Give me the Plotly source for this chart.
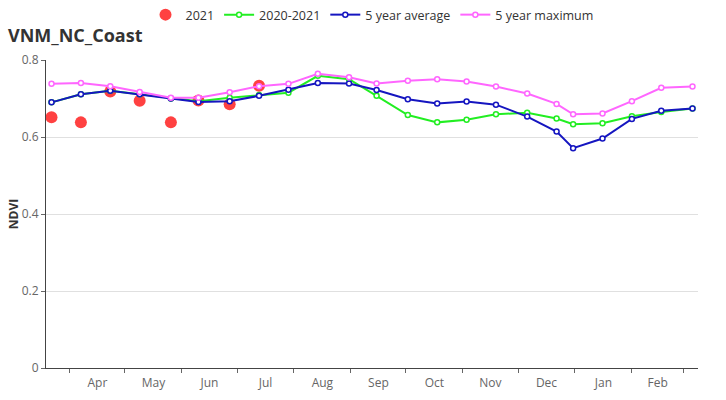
import plotly.graph_objects as go

# Dates of the composites (season Mar 2021 - Mar 2022)
dates = ["2021-03-22", "2021-04-07", "2021-04-23", "2021-05-09", "2021-05-26",
         "2021-06-10", "2021-06-27", "2021-07-13", "2021-07-29", "2021-08-14",
         "2021-08-31", "2021-09-15", "2021-10-02", "2021-10-18", "2021-11-03",
         "2021-11-19", "2021-12-06", "2021-12-22", "2021-12-31", "2022-01-16",
         "2022-02-01", "2022-02-17", "2022-03-06"]

ndvi_2021 = [0.651, 0.638, 0.718, 0.694, 0.638, 0.695, 0.685, 0.733]

ndvi_2020_2021 = [0.690, 0.711, 0.720, 0.711, 0.700, 0.693, 0.702, 0.709,
                  0.715, 0.759, 0.750, 0.707, 0.657, 0.638, 0.645, 0.659,
                  0.663, 0.648, 0.633, 0.636, 0.654, 0.665, 0.674]

avg_5yr = [0.690, 0.711, 0.720, 0.711, 0.700, 0.691, 0.693, 0.707,
           0.723, 0.740, 0.739, 0.722, 0.698, 0.687, 0.692, 0.684,
           0.653, 0.614, 0.571, 0.596, 0.647, 0.668, 0.674]

max_5yr = [0.738, 0.740, 0.732, 0.717, 0.702, 0.702, 0.716, 0.732,
           0.738, 0.764, 0.755, 0.739, 0.746, 0.750, 0.744, 0.731,
           0.713, 0.686, 0.659, 0.661, 0.693, 0.728, 0.731]

FONT = "Open Sans, Noto Sans, sans-serif"

fig = go.Figure()
fig.add_trace(go.Scatter(
    x=dates[:len(ndvi_2021)], y=ndvi_2021, name="2021", mode="markers",
    marker=dict(color="#ff3333", size=12, opacity=0.93)))


def line_trace(y, name, color):
    return go.Scatter(
        x=dates, y=y, name=name, mode="lines+markers",
        line=dict(color=color, width=2),
        marker=dict(symbol="circle", size=5, color="white",
                    line=dict(color=color, width=1.5)))


fig.add_trace(line_trace(ndvi_2020_2021, "2020-2021", "#22ee22"))
fig.add_trace(line_trace(avg_5yr, "5 year average", "#1515c0"))
fig.add_trace(line_trace(max_5yr, "5 year maximum", "#ff66ff"))

fig.update_layout(
    width=726, height=400,
    margin=dict(l=46, r=28, t=60, b=32),
    paper_bgcolor="white", plot_bgcolor="white",
    font=dict(family=FONT, size=12, color="#666"),
    title=dict(text="<b>VNM_NC_Coast</b>", x=0.011, xanchor="left",
               xref="container", yref="container", y=0.912, yanchor="middle",
               font=dict(size=18, color="#333", family=FONT)),
    legend=dict(orientation="h", x=0.5, xanchor="center", y=1.0,
                yanchor="top", yref="container", itemwidth=30,
                font=dict(size=12.5, color="#333"), traceorder="normal"),
    showlegend=True,
)

fig.update_xaxes(
    type="date", range=["2021-03-19", "2022-03-09"],
    dtick="M1", tick0="2021-04-01", tickformat="%b", ticklabelmode="period",
    showline=True, linecolor="#444", linewidth=1,
    ticks="outside", ticklen=4, tickcolor="#666",
    showgrid=False, zeroline=False, automargin=False,
    tickfont=dict(size=12, color="#666"))

fig.update_yaxes(
    range=[0, 0.8], dtick=0.2, tickformat=".1~f",
    showline=True, linecolor="#444", linewidth=1,
    ticks="outside", ticklen=4, tickcolor="#666",
    showgrid=True, gridcolor="#e0e0e0", gridwidth=1, zeroline=False,
    automargin=False,
    tickfont=dict(size=12, color="#666"),
    title=dict(text="<b>NDVI</b>", standoff=0,
               font=dict(size=12, color="#333")))

fig.write_html("out.html", config={"displayModeBar": False},
               post_script="document.body.style.margin='0';")
